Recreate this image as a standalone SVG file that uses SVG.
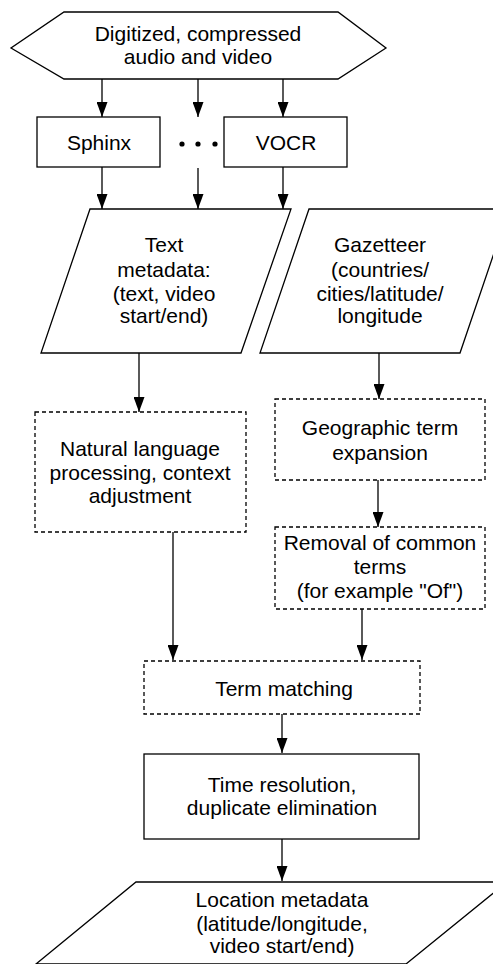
<svg xmlns="http://www.w3.org/2000/svg" width="493" height="964" viewBox="0 0 493 964">
<style>
.s{fill:#fff;stroke:#000;stroke-width:1.3}
.d{fill:#fff;stroke:#000;stroke-width:1.3;stroke-dasharray:4 3}
.t{font-family:"Liberation Sans",Arial,sans-serif;font-size:21px;fill:#000;text-anchor:middle}
.c{stroke:#000;stroke-width:1.3;fill:none;marker-end:url(#ah)}
</style>
<defs>
<marker id="ah" markerUnits="userSpaceOnUse" markerWidth="15" markerHeight="11" refX="15" refY="5.5" orient="auto">
<path d="M0,0 L15,5.5 L0,11 z" fill="#000"/>
</marker>
</defs>
<rect width="493" height="964" fill="#fff"/>
<g id="connectors">
<line class="c" x1="102" y1="79" x2="102" y2="117"/>
<line class="c" x1="198" y1="79" x2="198" y2="117"/>
<line class="c" x1="283" y1="79" x2="283" y2="117"/>
<line class="c" x1="102" y1="167" x2="102" y2="209"/>
<line class="c" x1="198" y1="168" x2="198" y2="209"/>
<line class="c" x1="283" y1="167" x2="283" y2="209"/>
<line class="c" x1="139" y1="353" x2="139" y2="412"/>
<line class="c" x1="379" y1="353" x2="379" y2="399"/>
<line class="c" x1="378" y1="480" x2="378" y2="527"/>
<line class="c" x1="173" y1="532" x2="173" y2="660"/>
<line class="c" x1="362" y1="609" x2="362" y2="660"/>
<line class="c" x1="282" y1="714" x2="282" y2="753"/>
<line class="c" x1="282" y1="839" x2="282" y2="881"/>
</g>
<g id="input">
<polygon class="s" points="64,12 338,12 386,48 338,79 64,79 11,48"/>
<text class="t" x="198" y="41">Digitized, compressed</text>
<text class="t" x="198" y="64">audio and video</text>
</g>
<g id="sphinx">
<rect class="s" x="37" y="117" width="123" height="50"/>
<text class="t" x="99" y="150">Sphinx</text>
</g>
<g id="ellipsis">
<circle cx="182" cy="144" r="2.6" fill="#000"/>
<circle cx="198" cy="144" r="2.6" fill="#000"/>
<circle cx="215" cy="144" r="2.6" fill="#000"/>
</g>
<g id="vocr">
<rect class="s" x="224" y="117" width="123" height="50"/>
<text class="t" x="286" y="150">VOCR</text>
</g>
<g id="textmeta">
<polygon class="s" points="90,209 291,209 241,353 41,353"/>
<text class="t" x="164" y="252">Text</text>
<text class="t" x="164" y="277">metadata:</text>
<text class="t" x="164" y="301">(text, video</text>
<text class="t" x="164" y="323">start/end)</text>
</g>
<g id="gazetteer">
<polygon class="s" points="309,209 509,209 460,353 260,353"/>
<text class="t" x="380" y="252">Gazetteer</text>
<text class="t" x="380" y="277">(countries/</text>
<text class="t" x="380" y="301">cities/latitude/</text>
<text class="t" x="380" y="323">longitude</text>
</g>
<g id="nlp">
<rect class="d" x="35" y="412" width="211" height="120"/>
<text class="t" x="140" y="456">Natural language</text>
<text class="t" x="140" y="480">processing, context</text>
<text class="t" x="140" y="503">adjustment</text>
</g>
<g id="geo">
<rect class="d" x="275" y="399" width="210" height="81"/>
<text class="t" x="380" y="435">Geographic term</text>
<text class="t" x="380" y="460">expansion</text>
</g>
<g id="removal">
<rect class="d" x="275" y="527" width="210" height="82"/>
<text class="t" x="380" y="550">Removal of common</text>
<text class="t" x="380" y="574">terms</text>
<text class="t" x="380" y="598">(for example "Of")</text>
</g>
<g id="termmatch">
<rect class="d" x="144" y="661" width="276" height="53"/>
<text class="t" x="284" y="696">Term matching</text>
</g>
<g id="timeres">
<rect class="s" x="144" y="754" width="275" height="85"/>
<text class="t" x="282" y="792">Time resolution,</text>
<text class="t" x="282" y="815">duplicate elimination</text>
</g>
<g id="location">
<polygon class="s" points="136,882 507,882 406,964 36,964"/>
<text class="t" x="282" y="907">Location metadata</text>
<text class="t" x="282" y="931">(latitude/longitude,</text>
<text class="t" x="282" y="953">video start/end)</text>
</g>
</svg>
